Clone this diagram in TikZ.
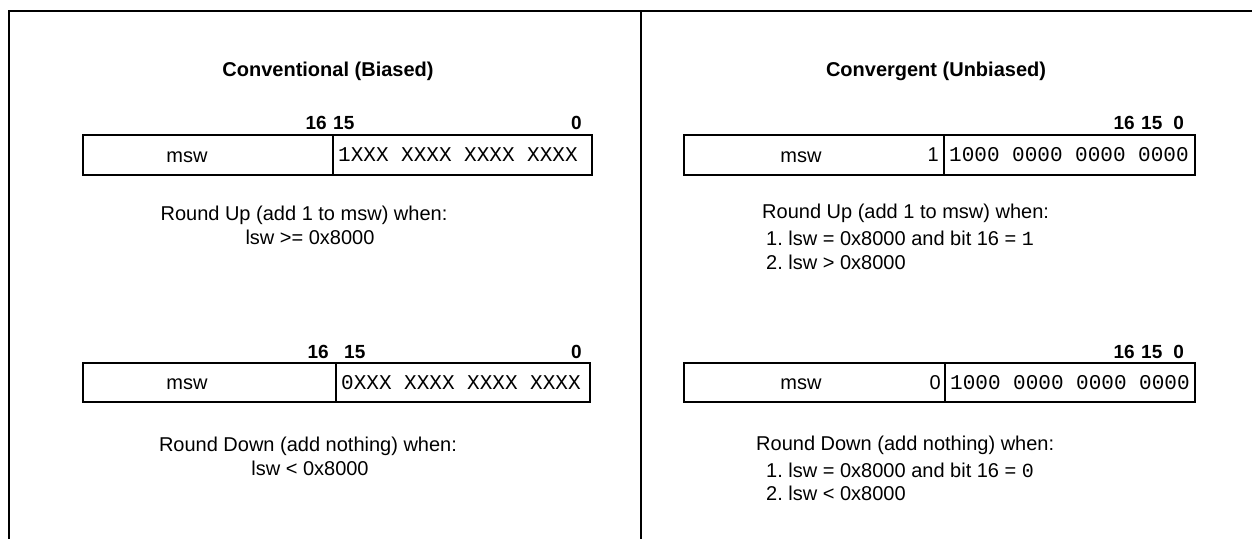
\documentclass[tikz,border=0pt]{standalone}
\usepackage{fontspec}
\setmainfont{Liberation Sans}
\setmonofont{Liberation Mono}
\usetikzlibrary{positioning}
\frenchspacing

\begin{document}
\begin{tikzpicture} [x=1pt, y=-1pt,
        frame/.style = {line width=2pt},
        reg/.style = {draw, line width=1.8pt, minimum height=40pt, inner sep=0pt, outer sep=0pt, anchor=north west},
        bits/.style = {font=\ttfamily\fontsize{21}{24}\selectfont, inner sep=0pt},
        heading/.style = {font=\fontsize{20}{24}\selectfont\bfseries, anchor=base},
        num/.style = {font=\fontsize{19}{22}\selectfont\bfseries, inner sep=0pt},
        txt/.style = {font=\fontsize{20}{24}\selectfont, inner sep=0pt}]
        \useasboundingbox (0,0) rectangle (1252,539);

        % outer frame and divider
        \draw [frame] (1252,11) -- (9,11) -- (9,539);
        \draw [frame] (641,11) -- (641,539);

        % conventional
        \node (convT) [heading] at (328,76) {Conventional (Biased)};

        \node (cuHi) [reg, minimum width=250pt] at (83,135) {};
        \node (cuLo) [reg, minimum width=259pt, right=0pt of cuHi] {};
        \node [txt] at (187,157) {msw};
        \node [bits, right=5pt of cuLo.west] {1XXX XXXX XXXX XXXX};
        \node [num, anchor=base east] at (327,129) {16};
        \node [num, anchor=base west] at (333,129) {15};
        \node [num, anchor=base east] at (582,129) {0};
        \node (cuA) [txt, anchor=base] at (304,220) {Round Up (add 1 to msw) when:};
        \node (cuB) [txt, anchor=base] at (310,244) {lsw >= 0x8000};

        \node (cdHi) [reg, minimum width=253pt, minimum height=39pt] at (83,363) {};
        \node (cdLo) [reg, minimum width=254pt, minimum height=39pt, right=0pt of cdHi] {};
        \node [txt] at (187,384) {msw};
        \node [bits, right=5pt of cdLo.west] {0XXX XXXX XXXX XXXX};
        \node [num, anchor=base east] at (329,358) {16};
        \node [num, anchor=base west] at (344,358) {15};
        \node [num, anchor=base east] at (582,358) {0};
        \node (cdA) [txt, anchor=base] at (308,451) {Round Down (add nothing) when:};
        \node (cdB) [txt, anchor=base] at (310,475) {lsw < 0x8000};

        % convergent
        \node (convR) [heading] at (936,76) {Convergent (Unbiased)};

        \node (vuHi) [reg, minimum width=260pt] at (684,135) {};
        \node (vuLo) [reg, minimum width=251pt, right=0pt of vuHi] {};
        \node [txt] at (801,157) {msw};
        \node [txt, left=5pt of vuHi.east] {1};
        \node [bits, right=5pt of vuLo.west] {1000 0000 0000 0000};
        \node [num, anchor=base east] at (1135,129) {16};
        \node [num, anchor=base west] at (1141,129) {15};
        \node [num, anchor=base east] at (1184,129) {0};
        \node (vuA) [txt, anchor=base west] at (762,218) {Round Up (add 1 to msw) when:};
        \node (vuB) [txt, anchor=base west] at (766,245) {1. lsw = 0x8000 and bit 16 = \texttt{1}};
        \node (vuC) [txt, anchor=base west] at (766,269) {2. lsw > 0x8000};

        \node (vdHi) [reg, minimum width=261pt, minimum height=39pt] at (684,363) {};
        \node (vdLo) [reg, minimum width=250pt, minimum height=39pt, right=0pt of vdHi] {};
        \node [txt] at (801,384) {msw};
        \node [txt, left=4pt of vdHi.east] {0};
        \node [bits, right=5pt of vdLo.west] {1000 0000 0000 0000};
        \node [num, anchor=base east] at (1135,358) {16};
        \node [num, anchor=base west] at (1141,358) {15};
        \node [num, anchor=base east] at (1184,358) {0};
        \node (vdA) [txt, anchor=base west] at (756,450) {Round Down (add nothing) when:};
        \node (vdB) [txt, anchor=base west] at (766,477) {1. lsw = 0x8000 and bit 16 = \texttt{0}};
        \node (vdC) [txt, anchor=base west] at (766,500) {2. lsw < 0x8000};
\end{tikzpicture}
\end{document}
